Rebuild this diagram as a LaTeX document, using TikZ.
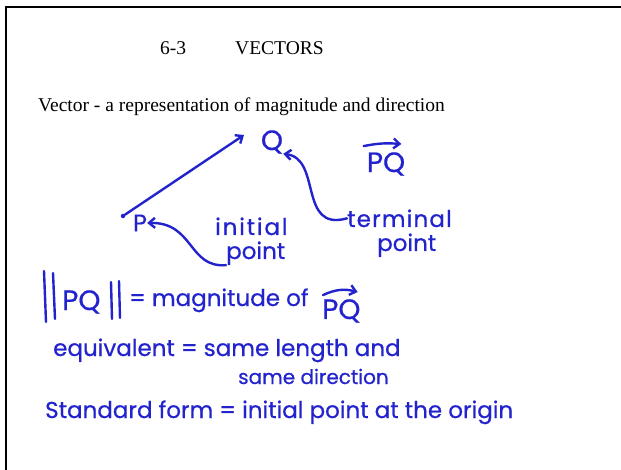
\documentclass[tikz,border=0pt]{standalone}
\usepackage{fontspec}
\setmainfont{Liberation Serif}
\newfontfamily\handfont{Poppins}[FakeBold=0.6]
\usepackage{tikz}
\usetikzlibrary{arrows.meta, positioning, calc}
\definecolor{ink}{RGB}{35,35,205}
\tikzstyle{printed}  = [font=\fontsize{19.5}{23}\selectfont, inner sep=0pt, anchor=base west]
\tikzstyle{hand}     = [font=\handfont\fontsize{23}{26}\selectfont, text=ink,
                        inner sep=0pt, anchor=base west]
\tikzstyle{bighand}  = [hand, font=\handfont\fontsize{28}{30}\selectfont]
\tikzstyle{stroke}   = [draw=ink, line width=2.4pt, line cap=round, line join=round]
\tikzstyle{inkarrow} = [stroke, -{Straight Barb[length=6pt, width=10pt]}]

\begin{document}
\begin{tikzpicture}[x=1pt, y=-1pt]
  \useasboundingbox (0,0) rectangle (621,470);

  % --- Frame ---
  \draw[line width=2pt] (5.5,470) -- (5.5,7) -- (621,7);

  % --- Printed text ---
  \node (num)   [printed] at (160,55)  {6-3};
  \node (title) [printed] at (235,55)  {VECTORS};
  \node (defn)  [printed] at (38,112)  {Vector - a representation of magnitude and direction};

  % --- Sketch of the vector PQ ---
  \node (p_dot) [circle, fill=ink, inner sep=0pt, minimum size=4.5pt] at (123,216) {};
  \coordinate (q_tip) at (244,135);
  \node (q_lbl) [bighand, anchor=center] at (272,142) {Q};
  \node (p_lbl) [hand, font=\handfont\fontsize{24}{26}\selectfont, anchor=center] at (140,223) {P};
  \draw[inkarrow] (p_dot) -- (q_tip);

  \node (pq_vec) [bighand, anchor=center] at (386,164) {PQ};
  \draw[inkarrow] ($(pq_vec.north west)+(-3,-6)$) to[bend left=8] ($(pq_vec.north east)+(-4,-8)$);

  % --- Initial and terminal point ---
  \node (init_lbl) [hand, font=\handfont\fontsize{23}{26}\selectfont\addfontfeature{LetterSpace=8}]
                   at (215,235) {initial};
  \node (init_pt)  [hand] at (226,259) {point};
  \draw[inkarrow] (init_pt.south west) .. controls (188,268) and (194,222) .. (p_lbl.east);

  \node (term_lbl) [hand, font=\handfont\fontsize{23}{26}\selectfont\addfontfeature{LetterSpace=5}]
                   at (347,227) {terminal};
  \node (term_pt)  [hand] at (377,251) {point};
  \draw[inkarrow] (term_lbl.west) .. controls (298,232) and (322,158) .. (q_lbl.south east);

  % --- Magnitude ---
  \draw[stroke] (44,271) -- (46,322);
  \draw[stroke] (53,273) -- (55,319);
  \node (norm_pq) [bighand] at (62,310) {PQ};
  \draw[stroke] (111,282) -- (112,319);
  \draw[stroke] (119,281) -- (120,318);
  \node (mag_lbl) [hand] at (129,306) {= magnitude of};
  \node (mag_vec) [bighand] at (322,319) {PQ};
  \draw[inkarrow] ($(mag_vec.north west)+(1,-4)$) to[bend left=20] ($(mag_vec.north east)+(-3,-7)$);

  % --- Equivalent and standard form ---
  \node (equiv_lbl) [hand] at (53,356)  {equivalent = same length and};
  \node (equiv_dir) [hand, font=\handfont\fontsize{20}{22}\selectfont] at (238,384) {same direction};
  \node (std_lbl)   [hand] at (45,418)  {Standard form = initial point at the origin};

\end{tikzpicture}
\end{document}
